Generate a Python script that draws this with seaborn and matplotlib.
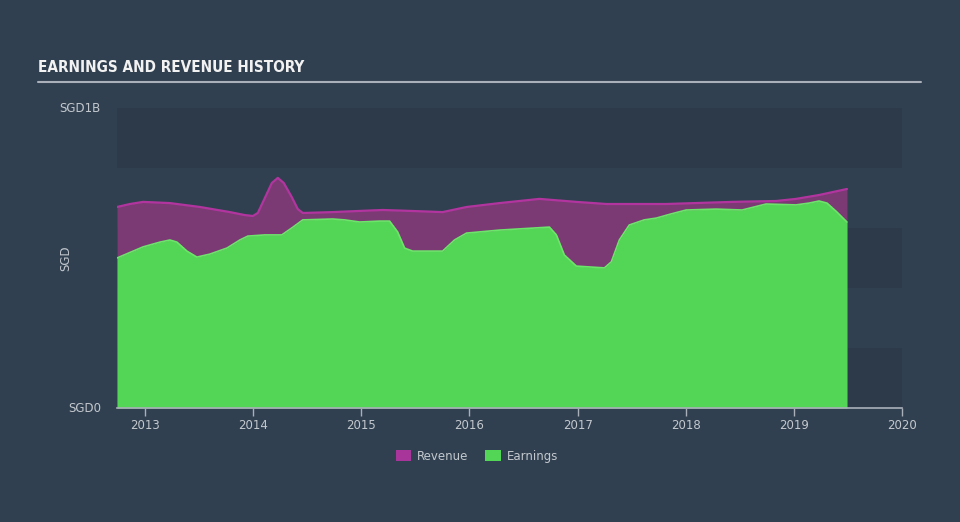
import matplotlib
matplotlib.use("Agg")
import matplotlib.pyplot as plt
import seaborn as sns
import pandas as pd
import numpy as np
from matplotlib.patches import Patch

# ---- data (SGD billions) ----
rev_years = [2012.741, 2012.861, 2012.982, 2013.231, 2013.508, 2013.785, 2013.923, 2013.997,
             2014.043, 2014.108, 2014.173, 2014.228, 2014.283, 2014.357, 2014.413, 2014.459,
             2014.736, 2014.994, 2015.198, 2015.447, 2015.752, 2015.973, 2016.278, 2016.647,
             2016.989, 2017.266, 2017.820, 2018.429, 2018.836, 2019.020, 2019.233, 2019.491]
revenue = [0.670, 0.680, 0.687, 0.683, 0.670, 0.653, 0.643, 0.640,
           0.650, 0.700, 0.750, 0.767, 0.750, 0.703, 0.663, 0.650,
           0.653, 0.657, 0.660, 0.657, 0.653, 0.670, 0.683, 0.697,
           0.687, 0.680, 0.680, 0.687, 0.690, 0.697, 0.710, 0.730]

earn_years = [2012.741, 2012.982, 2013.139, 2013.231, 2013.295, 2013.388, 2013.480, 2013.600,
              2013.757, 2013.877, 2013.951, 2014.108, 2014.265, 2014.357, 2014.459, 2014.736,
              2014.847, 2014.985, 2015.170, 2015.262, 2015.336, 2015.401, 2015.475, 2015.752,
              2015.862, 2015.973, 2016.278, 2016.740, 2016.804, 2016.878, 2016.989, 2017.248,
              2017.312, 2017.386, 2017.478, 2017.617, 2017.728, 2017.866, 2018.005, 2018.282,
              2018.522, 2018.633, 2018.744, 2019.020, 2019.140, 2019.233, 2019.307, 2019.399,
              2019.491]
earnings = [0.500, 0.537, 0.553, 0.560, 0.553, 0.523, 0.503, 0.513,
            0.533, 0.560, 0.573, 0.577, 0.577, 0.600, 0.627, 0.630,
            0.627, 0.620, 0.623, 0.623, 0.587, 0.533, 0.523, 0.523,
            0.560, 0.583, 0.593, 0.603, 0.577, 0.510, 0.473, 0.467,
            0.487, 0.560, 0.610, 0.627, 0.633, 0.647, 0.660, 0.663,
            0.660, 0.670, 0.680, 0.677, 0.683, 0.690, 0.683, 0.653,
            0.620]

year_ticks = [2013, 2014, 2015, 2016, 2017, 2018, 2019, 2020]
y_ticks = [0, 1]
y_ticklabels = ["SGD0", "SGD1B"]

# ---- style ----
BG = "#314050"
BAND = "#2c3a4a"
GREEN = "#53d655"
GREEN_EDGE = "#6ce66a"
PURPLE_FILL = "#7b3a74"
PURPLE_LINE = "#b2359f"
TXT = "#c3c8ce"

sns.set_theme(style="dark")
plt.rcParams["font.family"] = ["DejaVu Sans"]

fig = plt.figure(figsize=(9.6, 5.22), dpi=100, facecolor=BG)
ax = fig.add_axes([117/960, 1-408/522, (902-117)/960, 300/522])
ax.set_facecolor(BG)

for lo in (0.0, 0.4, 0.8):
    ax.axhspan(lo, lo + 0.2, color=BAND, lw=0, zorder=0)

rev_df = pd.DataFrame({"year": rev_years, "value": revenue})
earn_df = pd.DataFrame({"year": earn_years, "value": earnings})

ax.fill_between(rev_df["year"], 0, rev_df["value"], color=PURPLE_FILL, lw=0, zorder=2)
sns.lineplot(data=rev_df, x="year", y="value", color=PURPLE_LINE, lw=1.6, ax=ax, zorder=3)
ax.fill_between(earn_df["year"], 0, earn_df["value"], color=GREEN, lw=0, zorder=4)
sns.lineplot(data=earn_df, x="year", y="value", color=GREEN_EDGE, lw=1.2, ax=ax, zorder=5)

ax.set_xlim(2012.741, 2020.0)
ax.set_ylim(0, 1)
ax.set_xlabel("")
ax.set_ylabel("")
for s in ("top", "right", "left"):
    ax.spines[s].set_visible(False)
ax.spines["bottom"].set_color("#a9b0ba")
ax.spines["bottom"].set_linewidth(1.2)
ax.spines["bottom"].set_zorder(6)

ax.set_xticks(year_ticks)
ax.set_xticklabels([str(y) for y in year_ticks])
ax.tick_params(axis="x", colors="#a9b0ba", labelcolor=TXT, labelsize=8.5,
               length=6, width=1, direction="out", bottom=True, pad=2)
ax.set_yticks([])
ax.grid(False)

# y labels as text
for v, lab in zip(y_ticks, y_ticklabels):
    fig.text(101/960, 1 - (408 - 300*v)/522, lab, color=TXT, fontsize=8.5,
             ha="right", va="center")
fig.text(66/960, 1-258/522, "SGD", color=TXT, fontsize=8.5, rotation=90,
         ha="center", va="center")

# title and rule
fig.text(38/960, 1-68/522, "EARNINGS AND REVENUE HISTORY", color="#f2f2f2",
         fontsize=11, fontweight="bold", fontstretch="condensed",
         ha="left", va="center")
fig.add_artist(plt.Line2D([38/960, 921/960], [1-81.5/522, 1-81.5/522],
                          color="#a9b0ba", lw=1.5))

handles = [Patch(facecolor="#a8359a", edgecolor="none", label="Revenue"),
           Patch(facecolor=GREEN, edgecolor="none", label="Earnings")]
leg = fig.legend(handles=handles, loc="center", bbox_to_anchor=(477/960, 1-456/522),
                 ncol=2, frameon=False, fontsize=8.5, labelcolor=TXT,
                 handlelength=1.3, handleheight=1.1, columnspacing=1.4, handletextpad=0.5)

fig.savefig("out.png", dpi=100, facecolor=BG)
